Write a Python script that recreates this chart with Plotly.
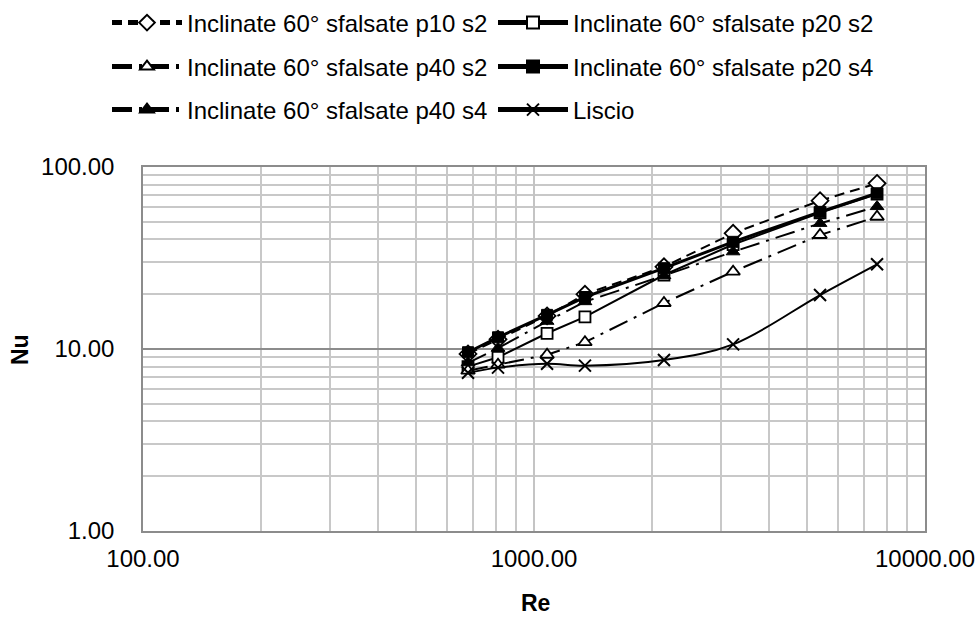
import plotly.graph_objects as go

# Reynolds numbers of the measurement points
re_vals = [678, 809, 1080, 1350, 2150, 3230, 5390, 7540]

# Nusselt numbers per configuration
nu_p10_s2 = [9.4, 11.3, 15.2, 20.0, 28.3, 43.2, 65.3, 81.3]
nu_p20_s2 = [8.0, 9.0, 12.2, 15.0, 25.5, 37.5, 56.0, 71.0]
nu_p40_s2 = [7.6, 8.2, 9.3, 10.9, 17.9, 26.6, 42.3, 53.3]
nu_p20_s4 = [9.6, 11.6, 15.4, 19.3, 27.8, 38.8, 56.7, 71.7]
nu_p40_s4 = [8.4, 10.1, 14.2, 18.2, 25.3, 34.2, 49.0, 60.6]
nu_liscio = [7.4, 7.9, 8.3, 8.1, 8.7, 10.6, 19.8, 29.2]

names = [
    "Inclinate 60° sfalsate p10 s2",
    "Inclinate 60° sfalsate p20 s2",
    "Inclinate 60° sfalsate p40 s2",
    "Inclinate 60° sfalsate p20 s4",
    "Inclinate 60° sfalsate p40 s4",
    "Liscio",
]
series = [nu_p10_s2, nu_p20_s2, nu_p40_s2, nu_p20_s4, nu_p40_s4, nu_liscio]

x_ticks = [100, 1000, 10000]
y_ticks = [1, 10, 100]

FONT = "Liberation Sans, Arial, sans-serif"
DASHDOT = "20px,7px,3px,7px"

styles = [
    dict(line=dict(color="black", width=2, dash="10px,6px"),
         marker=dict(symbol="diamond", size=13, color="white",
                     line=dict(color="black", width=1.8))),
    dict(line=dict(color="black", width=2),
         marker=dict(symbol="square", size=11, color="white",
                     line=dict(color="black", width=1.8))),
    dict(line=dict(color="black", width=2, dash=DASHDOT),
         marker=dict(symbol="triangle-up", size=12, color="white",
                     line=dict(color="black", width=1.8))),
    dict(line=dict(color="black", width=3),
         marker=dict(symbol="square", size=11, color="black",
                     line=dict(color="black", width=1))),
    dict(line=dict(color="black", width=2, dash=DASHDOT),
         marker=dict(symbol="triangle-up", size=12, color="black",
                     line=dict(color="black", width=1))),
    dict(line=dict(color="black", width=2, shape="spline"),
         marker=dict(symbol="x-thin", size=12, color="black",
                     line=dict(color="black", width=2))),
]

# one legend per entry: (left px, centre px) in the page
legend_pos = [(107, 23), (493, 23), (107, 67), (493, 67), (107, 110), (493, 110)]

fig = go.Figure()
legend_layout = {}
for i, (name, vals, st) in enumerate(zip(names, series, styles)):
    key = "legend" if i == 0 else f"legend{i + 1}"
    fig.add_trace(go.Scatter(
        x=re_vals, y=vals, name=name, mode="lines+markers",
        line=st["line"], marker=st["marker"], legend=key,
    ))
    px, py = legend_pos[i]
    legend_layout[key] = dict(
        x=px / 978, y=1 - py / 619, xref="container", yref="container",
        xanchor="left", yanchor="middle", orientation="h",
        itemwidth=70, itemsizing="constant",
        font=dict(family=FONT, size=24, color="black"),
        bgcolor="rgba(0,0,0,0)", borderwidth=0,
    )

minor_x = [v * m for v in (100, 1000) for m in range(2, 10)]
minor_y = [v * m for v in (1, 10) for m in range(2, 10)]

fig.update_layout(
    width=978, height=619,
    margin=dict(l=143, r=53, t=167, b=88),
    plot_bgcolor="white", paper_bgcolor="white",
    font=dict(family=FONT, size=24, color="black"),
    showlegend=True,
    **legend_layout,
    xaxis=dict(
        type="log", range=[2, 4], tickmode="array", tickvals=x_ticks,
        tickformat=".2f", showgrid=True, gridcolor="#c4c4c4", gridwidth=1.5,
        minor=dict(tickmode="array", tickvals=minor_x, showgrid=True,
                   gridcolor="#c8c8c8", gridwidth=1.5, ticks=""),
        showline=True, linecolor="#8c8c8c", linewidth=1.5, mirror=True,
        ticks="outside", ticklen=5, tickcolor="rgba(0,0,0,0)",
        zeroline=False, automargin=False,
        tickfont=dict(family=FONT, size=24, color="black"),
    ),
    yaxis=dict(
        type="log", range=[0, 2], tickmode="array", tickvals=y_ticks,
        tickformat=".2f", showgrid=True, gridcolor="#8c8c8c", gridwidth=1.5,
        minor=dict(tickmode="array", tickvals=minor_y, showgrid=True,
                   gridcolor="#c8c8c8", gridwidth=1.5, ticks=""),
        showline=True, linecolor="#8c8c8c", linewidth=1.5, mirror=True,
        ticks="outside", ticklen=22, tickcolor="rgba(0,0,0,0)",
        zeroline=False, automargin=False,
        tickfont=dict(family=FONT, size=24, color="black"),
    ),
    annotations=[
        dict(text="<b>Nu</b>", textangle=-90, xref="paper", yref="paper",
             x=(20 - 143) / 782, y=(531 - 350) / 364, showarrow=False,
             xanchor="center", yanchor="middle", borderpad=0,
             font=dict(family=FONT, size=23, color="black")),
        dict(text="<b>Re</b>", xref="paper", yref="paper",
             x=(535 - 143) / 782, y=(531 - 603) / 364, showarrow=False,
             xanchor="center", yanchor="middle", borderpad=0,
             font=dict(family=FONT, size=23, color="black")),
    ],
)

fig.write_html("out.html")
